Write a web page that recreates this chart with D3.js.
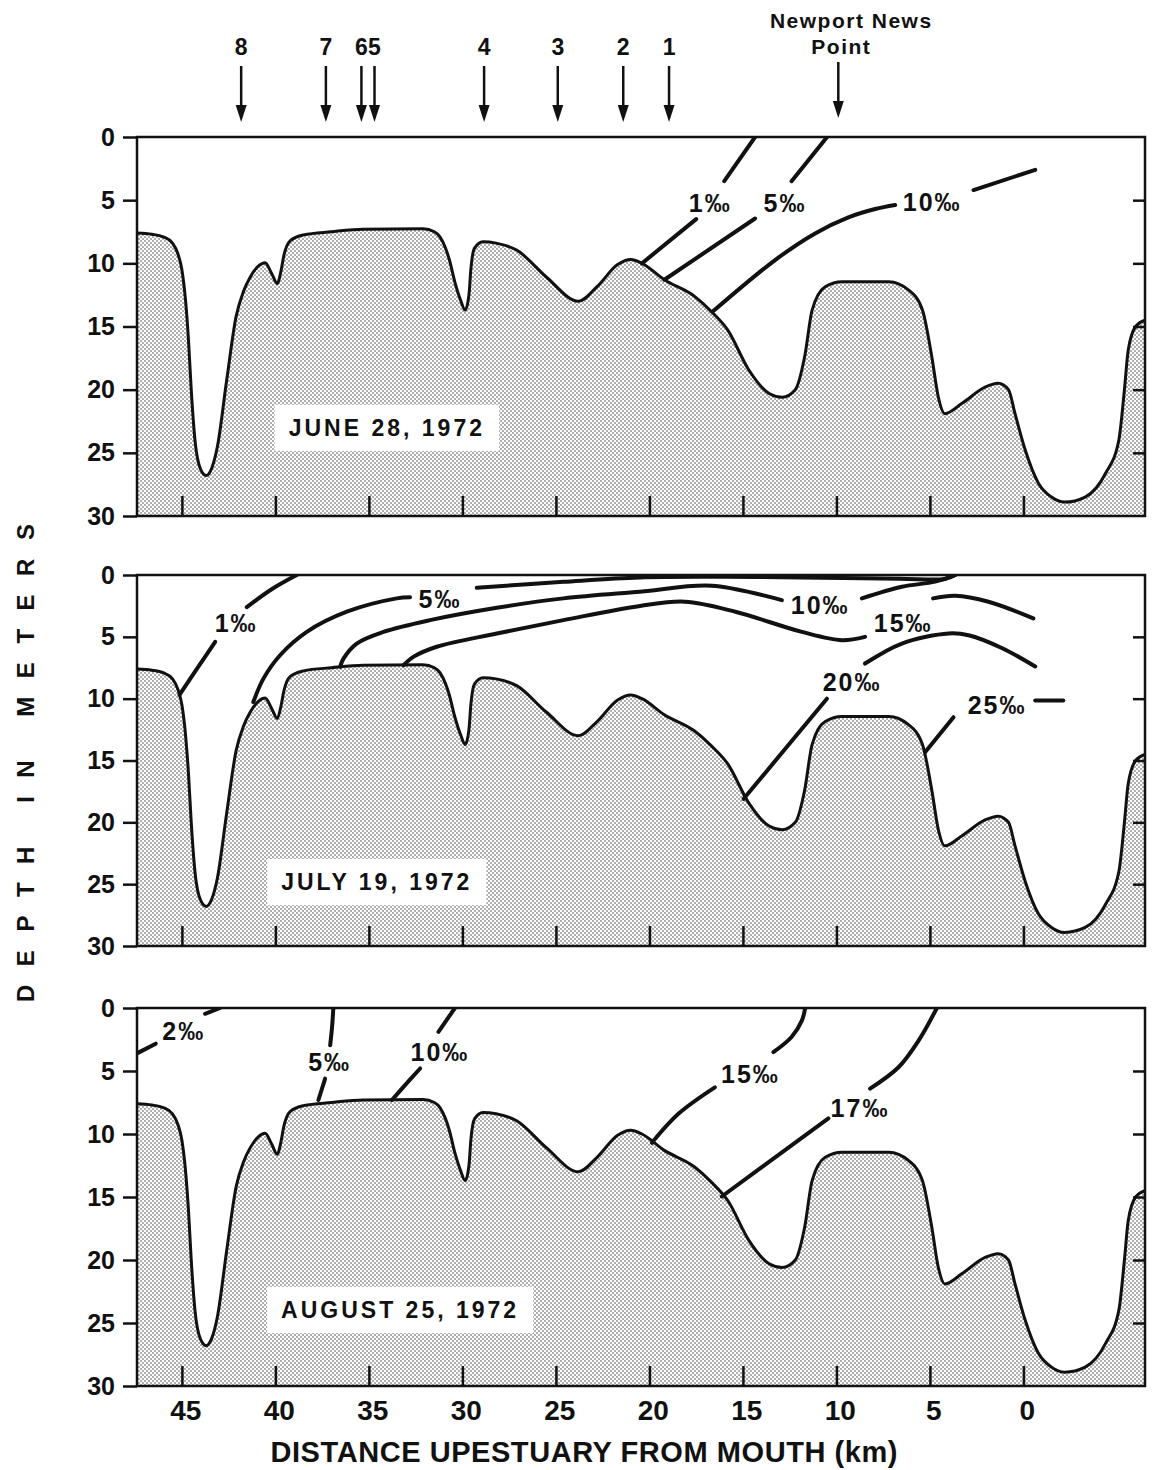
<!doctype html>
<html lang="en">
<head>
<meta charset="utf-8" />
<title>Salinity sections, James River estuary, 1972</title>
<script src="https://d3js.org/d3.v7.min.js"></script>
<style>
  body { margin: 0; background: #fff; }
  svg text { font-family: "Liberation Sans", Arial, sans-serif; font-weight: bold; fill: #111; }
</style>
</head>
<body>
<div id="chart"></div>
<script>
// channel bottom: [km upestuary from mouth, depth in m] - same section in all three surveys
const bottomProfile = [
  [47.4, 7.6], [46.6, 7.7], [46.0, 7.9], [45.5, 8.4], [45.2, 9.3], [45.0, 10.5], [44.8, 13.0],
  [44.65, 16.0], [44.5, 20.0], [44.3, 24.0], [44.0, 26.3], [43.7, 26.8], [43.4, 26.2], [43.1, 24.5],
  [42.6, 19.2], [42.1, 14.2], [41.7, 12.2], [41.35, 11.1], [40.9, 10.2], [40.55, 9.95], [40.2, 10.8],
  [39.9, 11.6], [39.7, 10.6], [39.55, 9.4], [39.2, 8.2], [38.5, 7.75], [37.0, 7.5], [35.3, 7.3],
  [32.1, 7.26], [31.5, 7.5], [31.2, 7.9], [30.9, 8.8], [30.7, 9.7], [30.4, 11.5], [30.1, 12.9],
  [29.85, 13.7], [29.65, 12.5], [29.55, 10.5], [29.35, 8.8], [28.9, 8.3], [28.2, 8.4], [27.1, 8.95],
  [25.5, 11.1], [23.8, 13.0], [22.8, 11.85], [21.7, 10.1], [21.0, 9.7], [20.4, 10.0], [19.2, 11.3],
  [17.6, 12.6], [16.7, 13.8], [15.8, 15.3], [14.7, 18.4], [13.6, 20.3], [12.9, 20.6], [12.2, 20.0],
  [11.7, 17.4], [11.3, 13.7], [10.6, 11.85], [9.7, 11.45], [7.2, 11.45], [6.15, 12.1], [5.4, 13.7],
  [4.9, 17.4], [4.55, 20.6], [4.2, 21.9], [3.3, 21.1], [2.05, 19.8], [1.35, 19.5], [0.8, 20.0],
  [0.45, 21.9], [-0.1, 24.8], [-0.8, 27.4], [-1.5, 28.5], [-2.2, 28.9], [-3.3, 28.5], [-4.4, 26.6],
  [-5.1, 24.0], [-5.4, 20.0], [-5.6, 16.9], [-6.0, 15.0], [-6.5, 14.5]
];

// isohalines per survey: label, label anchor [km, m], line pieces broken around the label
const juneLines = [
  { label: "1‰", at: [16.75, 5.2], parts: [[[20.4, 10.0], [17.5, 6.5]], [[16.0, 3.5], [14.35, 0]]] },
  { label: "5‰", at: [12.75, 5.2], parts: [[[19.2, 11.3], [14.35, 6.45]], [[12.4, 3.5], [10.5, 0]]] },
  { label: "10‰", at: [4.88, 5.15], parts: [
    [[16.6, 13.8], [13.28, 9.74], [11.14, 7.63], [9.36, 6.36], [7.93, 5.7], [6.86, 5.38]],
    [[2.67, 4.2], [-0.63, 2.6]]] }
];

const julyLines = [
  { label: "1‰", at: [42.1, 3.9], parts: [[[45.13, 9.7], [44.2, 7.6], [43.22, 5.4]], [[41.53, 2.6], [40.2, 1.15], [38.86, 0]]] },
  { label: "5‰", at: [31.2, 1.95], parts: [
    [[41.18, 10.27], [40.64, 8.38], [39.75, 6.49], [38.32, 4.6], [36.18, 2.97], [33.51, 1.89], [32.8, 1.8]],
    [[29.23, 1.03], [24.6, 0.55], [20.5, 0.2], [16.0, 0.15], [11.9, 0.2], [6.6, 0.3], [4.2, 0.32], [3.65, 0]]] },
  { label: "10‰", at: [10.87, 2.43], parts: [
    [[36.54, 7.43], [36.36, 6.76], [35.65, 5.54], [34.22, 4.6], [31.73, 3.65], [28.16, 2.65], [24.6, 1.89],
     [20.5, 1.35], [16.66, 0.87], [12.92, 2.03]],
    [[8.64, 1.89], [6.5, 0.95], [4.72, 0.54], [3.65, 0]]] },
  { label: "15‰", at: [6.43, 3.9], parts: [
    [[33.15, 7.3], [32.6, 6.6], [31.37, 5.8], [28.16, 4.73], [24.6, 3.65], [20.5, 2.5], [18.1, 2.16],
     [15.4, 2.97], [11.85, 4.6], [9.71, 5.27], [8.47, 5.0]],
    [[4.83, 1.89], [3.65, 1.68], [1.87, 2.16], [-0.53, 3.51]]] },
  { label: "20‰", at: [9.16, 8.68], parts: [
    [[14.96, 18.1], [10.51, 10.0]],
    [[8.47, 7.16], [6.5, 5.54], [4.0, 4.73], [2.94, 4.87], [1.16, 5.9], [-0.63, 7.4]]] },
  { label: "25‰", at: [1.41, 10.54], parts: [[[5.26, 14.33], [3.74, 11.5]], [[-0.63, 10.14], [-2.13, 10.14]]] }
];

const augustLines = [
  { label: "2‰", at: [44.9, 1.8], parts: [[[47.4, 3.6], [46.4, 2.83]], [[43.76, 0.46], [42.96, 0]]] },
  { label: "5‰", at: [37.1, 4.3], parts: [[[37.7, 7.3], [37.34, 5.6]], [[37.07, 2.96], [36.97, 1.5], [36.9, 0]]] },
  { label: "10‰", at: [31.2, 3.5], parts: [[[33.77, 7.3], [33.15, 6.26], [32.26, 4.8]], [[31.28, 1.9], [30.4, 0]]] },
  { label: "15‰", at: [14.6, 5.2], parts: [
    [[19.87, 10.7], [18.45, 8.4], [16.5, 6.3]],
    [[13.37, 3.5], [12.4, 2.3], [11.85, 1.0], [11.67, 0]]] },
  { label: "17‰", at: [8.74, 7.95], parts: [
    [[16.13, 14.96], [10.43, 8.76]],
    [[8.2, 6.4], [6.68, 4.7], [5.6, 2.57], [4.63, 0]]] }
];

const surveyDates = ["JUNE 28, 1972", "JULY 19, 1972", "AUGUST 25, 1972"];
const dateAt = [[34.04, 23.0], [34.58, 24.8], [33.33, 23.95]];

const stationNames = ["8", "7", "6", "5", "4", "3", "2", "1"];
const stationKm = [41.83, 37.3, 35.4, 34.7, 28.84, 24.9, 21.4, 18.95];
const newportKm = 9.9;

const kmTicks = [45, 40, 35, 30, 25, 20, 15, 10, 5, 0];
const depthTicks = [0, 5, 10, 15, 20, 25, 30];
const innerDepthTicks = [5, 10, 15, 20, 25];

// ---- layout
const W = 1155, H = 1470;
const left = 137, right = 1145;
const panelBox = [[137, 516], [575, 946], [1008, 1386]];
const allLines = [juneLines, julyLines, augustLines];

const svg = d3.select("#chart").append("svg")
  .attr("width", W).attr("height", H)
  .style("background", "#fff");

// stipple for the channel bottom
const defs = svg.append("defs");
const pat = defs.append("pattern")
  .attr("id", "stipple").attr("patternUnits", "userSpaceOnUse")
  .attr("width", 4).attr("height", 4);
pat.append("rect").attr("width", 4).attr("height", 4).attr("fill", "#fff");
pat.append("circle").attr("cx", 1).attr("cy", 1).attr("r", 0.7).attr("fill", "#222");
pat.append("circle").attr("cx", 3).attr("cy", 3).attr("r", 0.7).attr("fill", "#222");

const x = d3.scaleLinear().domain([47.4, -6.5]).range([left, right]);

panelBox.forEach((box, i) => {
  const y = d3.scaleLinear().domain([0, 30]).range(box);
  const g = svg.append("g").attr("class", "panel");

  defs.append("clipPath").attr("id", "clip" + i)
    .append("rect").attr("x", left).attr("y", box[0])
    .attr("width", right - left).attr("height", box[1] - box[0]);

  const inner = g.append("g").attr("clip-path", `url(#clip${i})`);

  const area = d3.area()
    .x(d => x(d[0])).y0(y(30)).y1(d => y(d[1]))
    .curve(d3.curveMonotoneX);
  const bed = d3.line()
    .x(d => x(d[0])).y(d => y(d[1]))
    .curve(d3.curveMonotoneX);

  inner.append("path").datum(bottomProfile)
    .attr("d", area).attr("fill", "url(#stipple)");
  inner.append("path").datum(bottomProfile)
    .attr("d", bed).attr("fill", "none")
    .attr("stroke", "#111").attr("stroke-width", 3);

  // isohalines
  const iso = d3.line()
    .x(d => x(d[0])).y(d => y(d[1]))
    .curve(d3.curveCatmullRom.alpha(0.5));
  allLines[i].forEach(c => {
    c.parts.forEach(p => {
      inner.append("path").datum(p)
        .attr("d", iso).attr("fill", "none")
        .attr("stroke", "#111").attr("stroke-width", 4)
        .attr("stroke-linecap", "round");
    });
    g.append("text")
      .attr("x", x(c.at[0])).attr("y", y(c.at[1]))
      .attr("dy", "0.36em")
      .attr("text-anchor", "middle")
      .style("font-size", "25px")
      .style("letter-spacing", "2px")
      .text(c.label);
  });

  // survey date on a white patch
  const dt = g.append("text")
    .attr("x", x(dateAt[i][0])).attr("y", y(dateAt[i][1]))
    .attr("dy", "0.36em")
    .attr("text-anchor", "middle")
    .style("font-size", "23px")
    .style("letter-spacing", "3px")
    .text(surveyDates[i]);
  const bb = dt.node().getBBox();
  g.insert("rect", "text")
    .attr("x", bb.x - 14).attr("y", bb.y - 10)
    .attr("width", bb.width + 28).attr("height", bb.height + 20)
    .attr("fill", "#fff");

  // frame
  g.append("rect")
    .attr("x", left).attr("y", box[0])
    .attr("width", right - left).attr("height", box[1] - box[0])
    .attr("fill", "none").attr("stroke", "#111").attr("stroke-width", 2.5);

  // depth axis, left
  const ya = g.append("g")
    .attr("transform", `translate(${left},0)`)
    .call(d3.axisLeft(y).tickValues(depthTicks).tickSize(14).tickPadding(8));
  ya.select(".domain").remove();
  ya.selectAll("line").attr("stroke", "#111").attr("stroke-width", 2.5);
  ya.selectAll("text").style("font-size", "25px").attr("fill", "#111");

  // inner ticks on the right
  const yr = g.append("g")
    .attr("transform", `translate(${right},0)`)
    .call(d3.axisRight(y).tickValues(innerDepthTicks).tickSize(-12).tickFormat(""));
  yr.select(".domain").remove();
  yr.selectAll("line").attr("stroke", "#111").attr("stroke-width", 2.5);

  // distance ticks, inward; labels only under the last panel
  const xa = g.append("g")
    .attr("transform", `translate(0,${box[1]})`)
    .call(d3.axisBottom(x).tickValues(kmTicks).tickSize(-20).tickPadding(14)
      .tickFormat(i === 2 ? d3.format("d") : ""));
  xa.select(".domain").remove();
  xa.selectAll("line").attr("stroke", "#111").attr("stroke-width", 2.5);
  xa.selectAll("text").style("font-size", "28px").attr("fill", "#111").attr("dx", "0.12em");
});

// station arrows along the top
const arrows = svg.append("g");
function arrow(xp, y0, y1) {
  arrows.append("line")
    .attr("x1", xp).attr("x2", xp).attr("y1", y0).attr("y2", y1 - 12)
    .attr("stroke", "#111").attr("stroke-width", 2.5);
  arrows.append("path")
    .attr("d", `M${xp - 5.5},${y1 - 17}L${xp + 5.5},${y1 - 17}L${xp},${y1}Z`)
    .attr("fill", "#111");
}
stationKm.forEach((km, i) => {
  arrow(x(km), 66, 122);
  arrows.append("text")
    .attr("x", x(km)).attr("y", 55)
    .attr("text-anchor", "middle")
    .style("font-size", "23px")
    .text(stationNames[i]);
});
arrow(x(newportKm), 62, 118);
arrows.append("text")
  .attr("x", x(newportKm) + 13).attr("y", 28)
  .attr("text-anchor", "middle")
  .style("font-size", "21px").style("letter-spacing", "1.5px")
  .text("Newport News");
arrows.append("text")
  .attr("x", x(newportKm) + 3).attr("y", 54)
  .attr("text-anchor", "middle")
  .style("font-size", "21px").style("letter-spacing", "1.5px")
  .text("Point");

// axis titles
svg.append("text")
  .attr("transform", "translate(34,763) rotate(-90)")
  .attr("text-anchor", "middle")
  .attr("textLength", 478).attr("lengthAdjust", "spacing")
  .style("font-size", "24px")
  .text("DEPTH IN METERS");

svg.append("text")
  .attr("x", 584).attr("y", 1462)
  .attr("text-anchor", "middle")
  .attr("textLength", 627).attr("lengthAdjust", "spacing")
  .style("font-size", "29px")
  .text("DISTANCE UPESTUARY FROM MOUTH (km)");
</script>
</body>
</html>
